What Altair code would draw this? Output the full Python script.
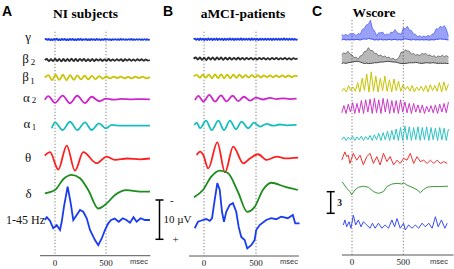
import altair as alt
import numpy as np
import pandas as pd

# ---------------- scale of the drawing ----------------
PX_PER_UV = 3.93   # 10 µV bar
PX_PER_Z = 7.2     # 3 W-score units bar

BANDS = ["gamma", "beta2", "beta1", "alpha2", "alpha1", "theta", "delta", "broad"]
COL_AB = ["#1a3cf0", "#2b2b2b", "#c8c400", "#cc27cc", "#19bdbd", "#ff1f1f", "#1c8c1c", "#1a3cf0"]
COL_C = ["#2a3cf0", "#333333", "#c8c400", "#c93ac9", "#2ec4c4", "#f23030", "#3a9a3a", "#3a4cf2"]

# row (baseline) positions, px from top
BASE_A = dict(gamma=39.5, beta2=60, beta1=77.5, alpha2=99.3, alpha1=125.7, theta=158.5, delta=192, broad=220)
BASE_B = dict(gamma=39.3, beta2=58.7, beta1=76.3, alpha2=98.7, alpha1=125.3, theta=158, delta=190, broad=220)
BASE_C = dict(gamma=40, beta2=63.5, beta1=92, alpha2=113.5, alpha1=140.5, theta=162, delta=188, broad=225)

# ================= Panel A : NI subjects (µV, upward positive) =================
A_SPAN = (-100, 930)
A_gamma = [0.0, 0.15, -0.12, 0.18, -0.15, 0.12, -0.18, 0.15, -0.12, 0.2, -0.15, 0.12, -0.15, 0.18, -0.12, 0.15,
           -0.18, 0.12, -0.15, 0.15, -0.12, 0.18, -0.15, 0.12, -0.15, 0.15, -0.12, 0.18, -0.15, 0.12, -0.12, 0.15,
           -0.15, 0.12, -0.15, 0.18, -0.12, 0.12, -0.15, 0.15, -0.12, 0.12, -0.15, 0.1, -0.12, 0.15, -0.1, 0.12,
           -0.12, 0.1, -0.15, 0.12, -0.1, 0.12, -0.12, 0.1, -0.12, 0.15, -0.1, 0.12, -0.12, 0.1, -0.12, 0.12,
           -0.1, 0.15, -0.12, 0.1, -0.12, 0.12, -0.1, 0.12, -0.12, 0.1, -0.12, 0.12, -0.1, 0.1, -0.1, 0.0]
A_beta2 = [0.0, 0.25, -0.3, 0.2, -0.3, 0.35, -0.25, 0.3, -0.35, 0.25, -0.3, 0.3, -0.25, 0.35, -0.3, 0.25, -0.3,
           0.3, -0.2, 0.25, -0.3, 0.2, -0.25, 0.3, -0.25, 0.2, -0.15, 0.2, -0.25, 0.15, -0.2, 0.25, -0.2, 0.15,
           -0.2, 0.2, -0.15, 0.2, -0.25, 0.2, -0.15, 0.2, -0.2, 0.15, -0.2, 0.2, -0.15, 0.2, -0.2, 0.15, -0.15, 0.0]
A_beta1 = [0.0, 0.6, -0.7, 0.7, -0.6, 0.7, -0.7, 0.6, -0.6, 0.55, -0.5, 0.5, -0.45, 0.4, -0.4, 0.35, -0.3, 0.25,
           -0.2, 0.2, -0.15, 0.2, -0.2, 0.15, -0.2, 0.2, -0.15, 0.2, -0.2, 0.1]
A_alpha2_t = [-100, -66, 0, 75, 147, 218, 294, 359, 434, 500, 570, 650, 750, 850, 930]
A_alpha2 = [-0.1, 0.8, -0.9, 0.95, -1.0, 0.9, -0.95, 0.65, -0.5, 0.15, -0.1, 0.1, 0.0, 0.05, 0.0]
A_alpha1_t = [-32, 0, 75, 147, 218, 294, 359, 431, 500, 556, 640, 931]
A_alpha1 = [-0.65, 0.85, -1.1, 1.0, -1.1, 0.85, -1.1, 0.6, -0.65, 0.2, 0.0, 0.0]
A_theta_t = [-100, -49, 32, 115, 196, 277, 409, 507, 588, 710, 833, 931]
A_theta = [0.75, 1.6, -2.8, 3.3, -3.1, 1.6, -1.2, 0.5, -0.35, 0.0, -0.2, 0.0]
A_delta_t = [-100, 0, 81, 164, 245, 326, 424, 507, 588, 703, 833, 931]
A_delta = [-0.35, 0.5, 3.25, 4.35, 3.5, 0.5, -4.2, -2.9, -0.75, 0.5, 0.1, 0.1]
A_broad_t = [-100, -81, -49, -17, 17, 49, 66, 88, 124, 154, 179, 213, 245, 277, 311, 343, 392, 424, 458, 490,
             522, 550, 585, 625, 665, 700, 735, 770, 800, 840, 880, 931]
A_broad = [0, 0.7, -0.2, -2.1, -1.3, -2.55, -0.45, 3.4, 8.5, 4.3, 0, 1.3, 2.55, 2.1, 0.45, -2.55, -5.1, -6.4,
           -4.7, -2.55, -0.85, 0, 0.35, -0.45, 0.45, 0, -0.7, 0.7, -0.45, 0.45, 0, 0]

# ================= Panel B : aMCI-patients (µV) =================
B_SPAN = (-100, 900)
B_gamma = [0.0, 0.18, -0.15, 0.15, -0.18, 0.2, -0.15, 0.18, -0.2, 0.15, -0.18, 0.2, -0.15, 0.15, -0.2, 0.18,
           -0.15, 0.2, -0.18, 0.15, -0.15, 0.18, -0.2, 0.15, -0.18, 0.15, -0.15, 0.2, -0.15, 0.18, -0.2, 0.15,
           -0.15, 0.18, -0.15, 0.2, -0.18, 0.15, -0.15, 0.18, -0.15, 0.15, -0.18, 0.2, -0.15, 0.15, -0.18, 0.15,
           -0.2, 0.15, -0.15, 0.18, -0.15, 0.15, -0.18, 0.15, -0.15, 0.18, -0.2, 0.15, -0.15, 0.18, -0.15, 0.15,
           -0.18, 0.15, -0.15, 0.2, -0.15, 0.15, -0.18, 0.15, -0.15, 0.15, -0.15, 0.12, -0.12, 0.0]
B_beta2 = [0.0, 0.3, -0.25, 0.3, -0.3, 0.25, -0.35, 0.3, -0.25, 0.35, -0.3, 0.3, -0.25, 0.3, -0.3, 0.25, -0.2,
           0.25, -0.25, 0.2, -0.2, 0.25, -0.2, 0.2, -0.25, 0.2, -0.15, 0.2, -0.2, 0.15, -0.2, 0.2, -0.15, 0.2,
           -0.2, 0.15, -0.2, 0.2, -0.15, 0.2, -0.2, 0.15, -0.15, 0.2, -0.2, 0.15, -0.2, 0.15, -0.1, 0.0]
B_beta1 = [0.0, 0.35, -0.35, 0.4, -0.35, 0.45, -0.5, 0.5, -0.45, 0.5, -0.5, 0.45, -0.5, 0.45, -0.4, 0.4, -0.35,
           0.3, -0.3, 0.3, -0.25, 0.25, -0.3, 0.25, -0.2, 0.25, -0.25, 0.2, -0.2, 0.25, -0.2, 0.2, -0.2, 0.15, 0.0]
B_alpha2_t = [-86, -54, -6, 51, 106, 163, 218, 275, 330, 384, 442, 499, 570, 634, 698, 762, 826, 890]
B_alpha2 = [-0.35, 0.7, -0.75, 0.95, -0.75, 0.85, -0.7, 0.75, -0.6, 0.5, -0.5, 0.25, -0.2, 0.2, -0.1, 0.1, -0.1, 0.0]
B_alpha1_t = [-93, -70, -38, 19, 74, 138, 192, 250, 307, 362, 426, 480, 538, 602, 666, 730, 794, 890]
B_alpha1 = [0.1, 0.7, -0.75, 1.2, -1.2, 1.2, -1.2, 1.2, -1.0, 0.95, -0.75, 0.7, -0.35, 0.35, -0.1, 0.2, 0.0, 0.1]
B_theta_t = [-70, -38, -7, 41, 128, 202, 281, 377, 442, 521, 602, 698, 794, 905]
B_theta = [0.75, 1.6, 0.75, -2.65, 4.0, -3.65, 2.9, -1.35, -0.1, 0.95, -0.5, 0.35, -0.1, 0.1]
B_delta_t = [-96, -10, 70, 151, 230, 326, 416, 487, 566, 646, 775, 902]
B_delta = [-1.85, 0, 3.4, 4.95, 4.3, -0.45, -5.55, -4.3, 0, 1.85, 0.85, 0]
B_broad_t = [-89, -58, -10, 22, 55, 77, 103, 128, 151, 173, 192, 214, 247, 278, 310, 333, 358, 391, 416, 454,
             487, 502, 535, 598, 646, 694, 742, 806, 854, 877, 919]
B_broad = [-2.1, -0.45, 0, 0.25, -0.2, 0.45, 5.1, 9.4, 7.7, 2.1, -0.45, 2.1, 3.85, 4.3, 2.1, -1.7, -4.3, -5.1,
           -7.25, -6.4, -5.1, -2.55, -1.3, 0, 0.45, 0.2, 0.85, 0.45, 1.3, -0.85, -0.85]

# ================= Panel C : Wscore (z units) =================
C_SPAN = (-100, 940)
C_gamma_lo = [0, 0.1, 0, 0.05, 0, 0.1, 0, 0.1, 0.05, 0, 0.1, 0.15, 0.1, 0.2, 0.15, 0.1, 0, 0.05, 0, 0.1, 0, 0.05,
              0, 0.1, 0, 0.05, 0.1, 0, 0.05, 0, 0.1, 0.15, 0.1, 0.05, 0, 0.1, 0, 0.05, 0, 0.05, 0, 0.05, 0, 0,
              0.05, 0, 0.1, 0.1, 0.15, 0.1, 0.1, 0.05, 0]
C_gamma_hi = [0.75, 0.6, 0.8, 0.6, 0.9, 0.8, 0.9, 0.6, 0.9, 0.8, 1.45, 1.6, 2.1, 2.2, 2.75, 1.6, 1.25, 0.6, 1.0,
              1.0, 1.1, 0.65, 0.85, 0.7, 1.1, 1.05, 1.45, 1.0, 0.9, 0.8, 1.7, 1.55, 1.9, 1.4, 1.3, 0.85, 0.75,
              0.45, 0.6, 0.4, 0.55, 0.4, 0.65, 0.5, 0.8, 0.9, 1.55, 1.5, 1.9, 1.75, 2.0, 1.5, 0.5]
C_beta2_lo = [0, 0.1, 0, 0.1, 0.15, 0.2, 0.25, 0.3, 0.3, 0.2, 0.1, 0, 0.05, 0, 0, 0.05, 0.1, 0.1, 0.15, 0.2, 0.2,
              0.25, 0.3, 0.3, 0.25, 0.2, 0.2, 0.15, 0.05, 0, 0, 0, 0.05, 0.1, 0.1, 0.1, 0.15, 0.1, 0.05, 0, 0.05,
              0.1, 0.1, 0.05, 0.1, 0.1, 0.05, 0, 0.05, 0, 0.05, 0, 0]
C_beta2_hi = [1.25, 1.5, 1.35, 1.7, 1.3, 1.2, 0.8, 0.9, 0.6, 1.05, 1.15, 1.65, 1.7, 2.2, 1.8, 1.8, 1.4, 1.4, 1.05,
              1.2, 0.9, 1.05, 0.8, 0.9, 0.6, 0.75, 0.5, 0.6, 0.9, 1.6, 1.6, 1.9, 1.75, 1.7, 1.3, 1.4, 1.15, 1.25,
              1.1, 1.4, 1.3, 1.4, 1.1, 1.2, 0.95, 1.1, 0.85, 1.05, 0.95, 1.15, 0.95, 1.1, 0.9]
C_beta1 = [0.1, 0.5, 0.0, 0.9, 0.2, 0.7, 0.1, 1.3, 0.0, 1.9, 0.2, 2.5, 0.0, 2.8, 0.1, 2.2, 0.0, 1.9, 0.2, 2.2,
           0.1, 1.7, 0.0, 1.8, 0.2, 1.5, 0.1, 1.0, 0.3, 0.8, 0.1, 0.9, 0.0, 0.7, 0.2, 0.8, 0.1, 0.9, 0.0, 1.0,
           0.2, 0.9, 0.1, 1.3, 0.0, 1.4, 0.2, 1.1]
C_alpha2 = [0.1, 1.1, 0.0, 1.3, 0.2, 1.5, 0.0, 1.4, 0.1, 1.8, 0.0, 1.9, 0.2, 2.0, 0.0, 2.1, 0.1, 1.9, 0.0, 2.1,
            0.2, 2.0, 0.0, 1.8, 0.1, 1.8, 0.0, 1.9, 0.2, 1.6, 0.1, 1.4, 0.0, 1.4, 0.2, 1.2, 0.1, 1.2, 0.0, 1.0,
            0.2, 1.1, 0.1, 1.2, 0.0, 1.3, 0.2, 1.4, 0.1, 1.6]
C_alpha1 = [0.1, 0.5, 0.0, 0.45, 0.1, 0.6, 0.0, 0.5, 0.1, 0.6, 0.0, 0.55, 0.1, 0.7, 0.0, 0.8, 0.1, 1.0, 0.0, 1.1,
            0.1, 1.3, 0.0, 1.4, 0.1, 1.6, 0.0, 1.8, 0.0, 2.0, 0.1, 1.9, 0.0, 1.8, 0.1, 1.9, 0.0, 1.8, 0.1, 1.9,
            0.0, 1.8, 0.1, 1.7, 0.0, 1.8, 0.1, 1.7, 0.0, 1.6]
C_theta_t = [-100, -69, -52, -36, -20, 13, 46, 78, 111, 144, 176, 209, 242, 274, 307, 340, 372, 405, 438, 470,
             503, 536, 568, 601, 634, 666, 699, 732, 764, 797, 830, 862, 895, 928]
C_theta = [0.25, 1.4, 0.75, 0.95, -0.2, 1.2, 0.25, 0.95, -0.4, 0.75, 1.2, -0.2, 0.75, -0.4, 1.2, 0.05, 0.75, -0.4,
           0.25, -0.2, 0.5, 0.25, 1.2, -0.2, 0.75, 0.05, 0.25, -0.2, 0.25, -0.2, 0.25, -0.2, 0.05, -0.2]
C_delta_t = [-95, -52, -20, -3, 29, 62, 111, 160, 209, 258, 307, 340, 389, 438, 487, 503, 536, 585, 634, 666,
             699, 732, 781, 846, 935]
C_delta = [0.85, -0.05, -0.5, -0.95, -0.25, 0.1, 0.25, 0.1, -0.5, -0.75, -0.5, 0.2, 0.55, 0.65, 0.55, 0.75, 0.4,
           0.1, -0.25, -0.65, -0.2, 0.1, 0.2, 0.2, 0.25]
C_broad_t = [-85, -69, -52, -29, -10, 13, 36, 62, 88, 111, 144, 176, 199, 225, 258, 291, 323, 356, 389, 415, 438,
             470, 503, 519, 552, 585, 617, 650, 683, 715, 748, 781, 813, 840, 872, 905, 928]
C_broad = [0, 0.7, -0.25, 0.45, -0.45, 1.35, 0, 0.7, -0.25, 0.45, 0, -0.45, 0.25, -0.45, 0.25, -0.45, 0, -0.45,
           0.7, -0.25, 0.9, -0.45, 0.25, -0.7, 0, -0.45, 0, -0.45, 0.25, -0.25, 0.25, -0.45, 1.15, -0.25, 0.7,
           -0.45, 0.25]

TICKS = [0, 500]
TICK_LABELS = ["0", "500"]


def even(vals, span):
    return list(np.linspace(span[0], span[1], len(vals)))


def frame(traces, base, ppu):
    recs = []
    for band, t, v in traces:
        for ti, vi in zip(t, v):
            recs.append({"band": band, "t": ti, "y": -base[band] / ppu + vi})
    return pd.DataFrame(recs)


def area_frame(traces, base, ppu):
    recs = []
    for band, t, lo, hi in traces:
        for ti, a, b in zip(t, lo, hi):
            off = -base[band] / ppu
            recs.append({"band": band, "t": ti, "y": off + a, "y2": off + b})
    return pd.DataFrame(recs)


def panel(smooth, jagged, areas, xsc, ysc, colors, width, dot_top, axis_ext, axis_y, unit_bar):
    cscale = alt.Scale(domain=BANDS, range=colors)
    X = alt.X("t:Q", scale=xsc, axis=None)
    Y = alt.Y("y:Q", scale=ysc, axis=None)
    C = alt.Color("band:N", scale=cscale, legend=None)
    layers = []
    dots = alt.Chart(pd.DataFrame({"t": TICKS})).mark_rule(
        strokeDash=[1.2, 2], color="#7a7a7a", strokeWidth=1).encode(
        x=X, y=alt.value(dot_top), y2=alt.value(axis_y))
    layers.append(dots)
    if areas is not None:
        layers.append(alt.Chart(areas).mark_area(interpolate="linear", line={"strokeWidth": 0.9}).encode(
            x=X, y=Y, y2="y2:Q", color=C, detail="band:N",
            fillOpacity=alt.FillOpacity("band:N", scale=alt.Scale(domain=["gamma", "beta2"], range=[0.68, 0.5]),
                                        legend=None)))
        layers.append(alt.Chart(areas).mark_line(strokeWidth=0.7, interpolate="linear", opacity=0.8).encode(
            x=X, y=alt.Y("y2:Q", scale=ysc, axis=None), color=C, detail="band:N"))
    if smooth is not None:
        layers.append(alt.Chart(smooth).mark_line(strokeWidth=width, interpolate="monotone").encode(
            x=X, y=Y, color=C, detail="band:N"))
    if jagged is not None:
        layers.append(alt.Chart(jagged).mark_line(strokeWidth=width, interpolate="linear").encode(
            x=X, y=Y, color=C, detail="band:N"))
    axis_line = alt.Chart(pd.DataFrame({"t": [axis_ext[0]], "t2": [axis_ext[1]]})).mark_rule(
        color="#555555", strokeWidth=1).encode(x=X, x2="t2:Q", y=alt.value(axis_y))
    labels = alt.Chart(pd.DataFrame({"t": TICKS, "lab": TICK_LABELS})).mark_text(
        font="Liberation Serif", fontSize=9, color="#222222", baseline="middle").encode(
        x=X, y=alt.value(axis_y + 7), text="lab:N")
    layers += [axis_line, labels]
    if unit_bar is not None:
        bx, top_px, length = unit_bar
        top = -top_px / (ysc.range[1] / abs(ysc.domain[1]))
        bar = pd.DataFrame({"y": [top], "y2": [top - length]})
        layers.append(alt.Chart(bar).mark_rule(color="black", strokeWidth=1.5).encode(
            x=alt.value(bx), y=alt.Y("y:Q", scale=ysc, axis=None), y2="y2:Q"))
        caps = pd.DataFrame({"y": [top, top - length]})
        layers.append(alt.Chart(caps).mark_rule(color="black", strokeWidth=1.5).encode(
            x=alt.value(bx - 4), x2=alt.value(bx + 4), y=alt.Y("y:Q", scale=ysc, axis=None)))
    return alt.layer(*layers)


# ---- Panel A ----
smA = frame([("gamma", even(A_gamma, A_SPAN), A_gamma), ("beta2", even(A_beta2, A_SPAN), A_beta2),
             ("beta1", even(A_beta1, A_SPAN), A_beta1), ("alpha2", A_alpha2_t, A_alpha2),
             ("alpha1", A_alpha1_t, A_alpha1), ("theta", A_theta_t, A_theta), ("delta", A_delta_t, A_delta)],
            BASE_A, PX_PER_UV)
jgA = frame([("broad", A_broad_t, A_broad)], BASE_A, PX_PER_UV)
yAB = alt.Scale(domain=[0, -10], range=[0, 10 * PX_PER_UV], nice=False, zero=False)
xA = alt.Scale(domain=[0, 500], range=[55, 106], nice=False, zero=False)
pA = panel(smA, jgA, None, xA, yAB, COL_AB, 1.8, 31.7, (-147, 935), 255.7, (159.5, 200, 10))

# ---- Panel B ----
smB = frame([("gamma", even(B_gamma, B_SPAN), B_gamma), ("beta2", even(B_beta2, B_SPAN), B_beta2),
             ("beta1", even(B_beta1, B_SPAN), B_beta1), ("alpha2", B_alpha2_t, B_alpha2),
             ("alpha1", B_alpha1_t, B_alpha1), ("theta", B_theta_t, B_theta), ("delta", B_delta_t, B_delta)],
            BASE_B, PX_PER_UV)
jgB = frame([("broad", B_broad_t, B_broad)], BASE_B, PX_PER_UV)
xB = alt.Scale(domain=[0, 500], range=[204, 256], nice=False, zero=False)
pB = panel(smB, jgB, None, xB, yAB, COL_AB, 1.8, 31.7, (-144, 912), 256, None)

# ---- Panel C ----
arC = area_frame([("gamma", even(C_gamma_hi, C_SPAN), C_gamma_lo, C_gamma_hi),
                  ("beta2", even(C_beta2_hi, C_SPAN), C_beta2_lo, C_beta2_hi)], BASE_C, PX_PER_Z)
jgC = frame([("beta1", even(C_beta1, C_SPAN), C_beta1), ("alpha2", even(C_alpha2, C_SPAN), C_alpha2),
             ("alpha1", even(C_alpha1, C_SPAN), C_alpha1), ("theta", C_theta_t, C_theta),
             ("delta", C_delta_t, C_delta), ("broad", C_broad_t, C_broad)], BASE_C, PX_PER_Z)
yC = alt.Scale(domain=[0, -3], range=[0, 3 * PX_PER_Z], nice=False, zero=False)
xC = alt.Scale(domain=[0, 500], range=[352, 403.3], nice=False, zero=False)
pC = panel(None, jgC, arC, xC, yC, COL_C, 1.0, 20, (-98, 990), 255, (330.7, 191.7, 3))

# ---------------- annotations (text) ----------------
def texts(rows, **kw):
    df = pd.DataFrame(rows, columns=["text", "px", "py"])
    return alt.Chart(df).mark_text(**kw).encode(
        x=alt.X("px:Q", scale=None, axis=None), y=alt.Y("py:Q", scale=None, axis=None), text="text:N")


titles = texts([("NI subjects", 85.5, 17.5), ("aMCI-patients", 243, 17.5), ("Wscore", 374, 16.5)],
               font="Liberation Serif", fontSize=13.5, fontWeight="bold", align="center", baseline="alphabetic")
letters = texts([("A", 2, 15.5), ("B", 163, 15.5), ("C", 312, 15.5)],
                font="Liberation Sans", fontSize=14, fontWeight="bold", align="left", baseline="alphabetic")
greek = texts([("γ", 28, 40.5), ("β", 25.5, 62.5), ("β", 25.5, 80.5), ("α", 26.5, 101.5), ("α", 27, 128.3),
               ("θ", 28, 161.5), ("δ", 28.5, 198)],
              font="Liberation Serif", fontSize=13, align="center", baseline="alphabetic", color="#111111")
subs = texts([("2", 33, 65), ("1", 32.5, 84), ("2", 34, 103), ("1", 34, 130)],
             font="Liberation Serif", fontSize=9, align="center", baseline="alphabetic", color="#111111")
hz = texts([("1-45 Hz", 45, 223.5)], font="Liberation Serif", fontSize=12, align="right",
           baseline="alphabetic", color="#111111")
uv = texts([("10 µV", 163.5, 223), ("-", 170, 203.5), ("+", 172.5, 243)], font="Liberation Serif",
           fontSize=11, align="left", baseline="alphabetic", color="#111111")
three = texts([("3", 339.5, 205.5)], font="Liberation Serif", fontSize=9.5, fontWeight="bold", align="center",
              baseline="alphabetic", color="#111111")
msec = texts([("msec", 139, 262), ("msec", 289, 262), ("msec", 439, 262)], font="Liberation Sans", fontSize=7.5,
             align="center", baseline="middle", color="#333333")
ann = alt.layer(titles, letters, greek, subs, hz, uv, three, msec)

chart = alt.layer(pA, pB, pC, ann).resolve_scale(
    x="independent", y="independent", color="independent", fillOpacity="independent"
).properties(
    width=454, height=269, autosize=alt.AutoSizeParams(type="none"), padding=0
).configure_view(stroke=None)

chart.save("out.html", embed_options={"renderer": "svg", "actions": False})
